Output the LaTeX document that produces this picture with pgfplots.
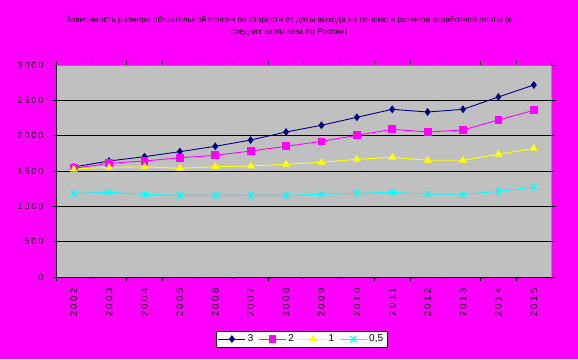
\documentclass[border=0pt]{standalone}
\usepackage{fontspec}
\setmainfont{Liberation Sans}
\newfontfamily\tickfont[LetterSpace=22]{Liberation Sans}
\newfontfamily\xtickfont[LetterSpace=25]{Liberation Sans}
\usepackage{pgfplots}
\pgfplotsset{compat=1.18}
\definecolor{bgmag}{RGB}{255,0,255}
\definecolor{plotgray}{RGB}{192,192,192}
\definecolor{navy}{RGB}{0,0,128}
\definecolor{cy}{RGB}{0,255,255}
\definecolor{yel}{RGB}{255,255,0}
\pgfdeclareplotmark{xstar}{%
  \pgfpathmoveto{\pgfqpoint{-\pgfplotmarksize}{-\pgfplotmarksize}}%
  \pgfpathlineto{\pgfqpoint{\pgfplotmarksize}{\pgfplotmarksize}}%
  \pgfpathmoveto{\pgfqpoint{-\pgfplotmarksize}{\pgfplotmarksize}}%
  \pgfpathlineto{\pgfqpoint{\pgfplotmarksize}{-\pgfplotmarksize}}%
  \pgfpathmoveto{\pgfqpoint{0pt}{-\pgfplotmarksize}}%
  \pgfpathlineto{\pgfqpoint{0pt}{\pgfplotmarksize}}%
  \pgfusepathqstroke}
\begin{document}
\begin{tikzpicture}[x=1bp,y=1bp]
\fill[bgmag] (0,0) rectangle (578,359);
\path[use as bounding box] (0,0) rectangle (578,359);
\node[font=\fontsize{8.3bp}{12.5bp}\selectfont, align=center] at (289,332.7) {Зависимость размера обязательной пенсии по старости от даты выхода на пенсию и размера заработной платы (в\\средних зарплатах по России)};
\begin{axis}[
  at={(56bp,82bp)}, anchor=south west, scale only axis,
  width=495.5bp, height=211.7bp,
  xmin=-0.5, xmax=13.5, ymin=0, ymax=3000,
  axis background/.style={fill=plotgray},
  axis line style={draw=none},
  ytick={0,500,...,3000}, ymajorgrids,
  major grid style={black, line width=0.8bp},
  xtick={-0.5,0.5,...,13.5},
  xticklabels={2002,2003,2004,2005,2006,2007,2008,2009,2010,2011,2012,2013,2014,2015},
  x tick label as interval,
  tick align=outside, major tick length=4bp,
  tick style={black, line width=0.8bp},
  /pgf/number format/assume math mode=true,
  /pgf/number format/1000 sep={},
  yticklabel style={font=\tickfont\fontsize{9bp}{9bp}\selectfont, xshift=-5bp},
  xticklabel style={font=\xtickfont\fontsize{9.5bp}{9.5bp}\selectfont, rotate=90, anchor=east, xshift=-4bp},
  legend style={at={(0.4955,-0.293)}, anchor=center, legend columns=4, draw=black, fill=white,
    font=\fontsize{10bp}{10bp}\selectfont, inner sep=2bp,
    /tikz/every even column/.append style={column sep=3bp}},
  legend image code/.code={\draw[mark repeat=2,mark phase=2] plot coordinates {(0bp,0bp) (13.5bp,0bp) (27bp,0bp)};},
  every axis plot/.append style={line width=0.9bp},
]
\addplot[navy, mark=diamond*, mark size=3.2bp, mark options={fill=navy}] coordinates {
(0,1559)(1,1644)(2,1705)(3,1776)(4,1852)(5,1941)(6,2055)(7,2150)(8,2263)(9,2376)(10,2338)(11,2376)(12,2551)(13,2721)};
\addlegendentry{3}
\addplot[bgmag, mark=square*, mark size=3.4bp, mark options={fill=bgmag}] coordinates {
(0,1540)(1,1611)(2,1644)(3,1690)(4,1724)(5,1785)(6,1852)(7,1922)(8,2008)(9,2093)(10,2055)(11,2083)(12,2225)(13,2362)};
\addlegendentry{2}
\addplot[yel, mark=triangle*, mark size=3.6bp, mark options={fill=yel}] coordinates {
(0,1530)(1,1554)(2,1560)(3,1540)(4,1563)(5,1573)(6,1597)(7,1625)(8,1668)(9,1696)(10,1654)(11,1654)(12,1739)(13,1823)};
\addlegendentry{1}
\addplot[cy, mark=xstar, mark size=3.4bp] coordinates {
(0,1186)(1,1200)(2,1172)(3,1157)(4,1157)(5,1157)(6,1157)(7,1172)(8,1186)(9,1200)(10,1172)(11,1172)(12,1214)(13,1275)};
\addlegendentry{0,5}
\draw[gray, line width=0.8bp] (rel axis cs:0,1) -- (rel axis cs:1,1) -- (rel axis cs:1,0);
\draw[black, line width=0.8bp] (rel axis cs:0,1) -- (rel axis cs:0,0) -- (rel axis cs:1,0);
\end{axis}
\end{tikzpicture}
\end{document}
